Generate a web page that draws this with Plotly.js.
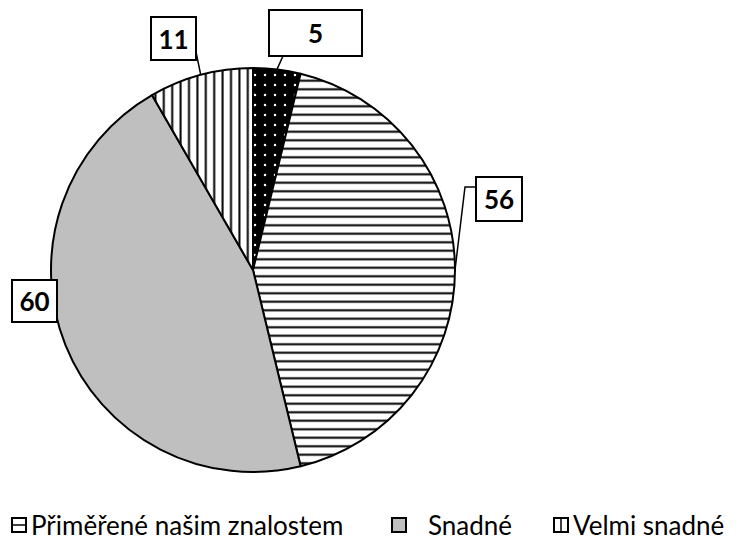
<!DOCTYPE html>
<html><head><meta charset="utf-8">
<script src="https://cdn.plot.ly/plotly-3.0.1.min.js"></script>
<style>html,body{margin:0;padding:0;background:#fff;}#chart{width:739px;height:541px;}</style>
</head><body><div id="chart"></div>
<script>
// Data (clockwise from 12 o'clock)
const labels = ['Obtížné', 'Přiměřené našim znalostem', 'Snadné', 'Velmi snadné'];
const values = [5, 56, 60, 11];
const legendLabels = ['Přiměřené našim znalostem', 'Snadné', 'Velmi snadné'];

const W = 739, H = 541;
const cx = 253, cy = 270, R = 202;   // pie geometry in px
const px2x = p => p / W, px2y = p => 1 - p / H;

// styles per slice
const patterns = {
  shape: ['.', '-', '', '|'],
  bgcolor: ['#000000', '#ffffff', '#bfbfbf', '#ffffff'],
  fgcolor: ['#ffffff', '#000000', '#bfbfbf', '#000000'],
  size: [10, 8.5, 8, 8.4],
  solidity: [0.05, 0.24, 0.2, 0.24]
};

const trace = {
  type: 'pie',
  labels: labels, values: values,
  sort: false, direction: 'clockwise', rotation: 0,
  textinfo: 'none', hoverinfo: 'label+value',
  showlegend: false,
  domain: {x: [px2x(cx - R), px2x(cx + R)], y: [px2y(cy + R), px2y(cy - R)]},
  marker: {
    colors: ['#000000', '#ffffff', '#bfbfbf', '#ffffff'],
    line: {color: '#000000', width: 2},
    pattern: patterns
  }
};

// label boxes (px layout for boxes), leader end computed from slice mid angles
const boxes = [
  {x0: 269, y0: 10, x1: 362, y1: 56, from: [283, 56]},
  {x0: 476, y0: 177, x1: 522, y1: 221, from: [476, 187], elbow: [465, 187]},
  {x0: 12, y0: 280, x1: 57, y1: 322, from: null},
  {x0: 151, y0: 17, x1: 196, y1: 60, from: [195, 47]}
];
const total = values.reduce((a, b) => a + b, 0);
let cum = 0;
const annotations = [], shapes = [];
values.forEach((v, i) => {
  const mid = (cum + v / 2) / total * 2 * Math.PI;
  cum += v;
  const ex = cx + R * Math.sin(mid), ey = cy - R * Math.cos(mid);
  const b = boxes[i];
  annotations.push({
    xref: 'paper', yref: 'paper', x: px2x((b.x0 + b.x1) / 2), y: px2y((b.y0 + b.y1) / 2),
    xanchor: 'center', yanchor: 'middle', showarrow: false,
    text: '<b>' + v + '</b>', font: {family: 'Lato, "Open Sans", sans-serif', size: 26, color: '#000'},
    width: b.x1 - b.x0 - 2, height: b.y1 - b.y0 - 2, borderpad: 0,
    bordercolor: '#000', borderwidth: 2, bgcolor: '#fff'
  });
  if (b.from) {
    let path = 'M' + px2x(b.from[0]) + ',' + px2y(b.from[1]);
    if (b.elbow) path += ' L' + px2x(b.elbow[0]) + ',' + px2y(b.elbow[1]);
    path += ' L' + px2x(ex) + ',' + px2y(ey);
    shapes.push({type: 'path', xref: 'paper', yref: 'paper', path: path, line: {color: '#000', width: 1.5}, layer: 'above'});
  }
});

// manual legend
const legendItems = [
  {sx: 12, tx: 29, kind: 'h'},
  {sx: 392, tx: 426, kind: 'g'},
  {sx: 554, tx: 571, kind: 'v'}
];
const ly = 525, ss = 14;
legendLabels.forEach((lab, i) => {
  const it = legendItems[i];
  const x0 = it.sx, x1 = it.sx + ss, y0 = ly - ss / 2, y1 = ly + ss / 2;
  shapes.push({type: 'rect', xref: 'paper', yref: 'paper', x0: px2x(x0), x1: px2x(x1), y0: px2y(y0), y1: px2y(y1),
    line: {color: '#000', width: 2}, fillcolor: it.kind === 'g' ? '#bfbfbf' : '#fff'});
  if (it.kind === 'h') {
    shapes.push({type: 'line', xref: 'paper', yref: 'paper', x0: px2x(x0), x1: px2x(x1), y0: px2y(ly), y1: px2y(ly), line: {color: '#000', width: 1.5}});
  } else if (it.kind === 'v') {
    shapes.push({type: 'line', xref: 'paper', yref: 'paper', x0: px2x(x0 + ss / 2), x1: px2x(x0 + ss / 2), y0: px2y(y0), y1: px2y(y1), line: {color: '#000', width: 1.5}});
  }
  annotations.push({xref: 'paper', yref: 'paper', x: px2x(it.tx), y: px2y(ly), xanchor: 'left', yanchor: 'middle',
    showarrow: false, text: lab, font: {family: 'Lato, "Open Sans", sans-serif', size: 26, color: '#000'}});
});

Plotly.newPlot('chart', [trace], {
  width: W, height: H,
  margin: {l: 0, r: 0, t: 0, b: 0},
  paper_bgcolor: '#fff', plot_bgcolor: '#fff',
  showlegend: false,
  annotations: annotations, shapes: shapes
}, {displayModeBar: false, staticPlot: true});
</script></body></html>
